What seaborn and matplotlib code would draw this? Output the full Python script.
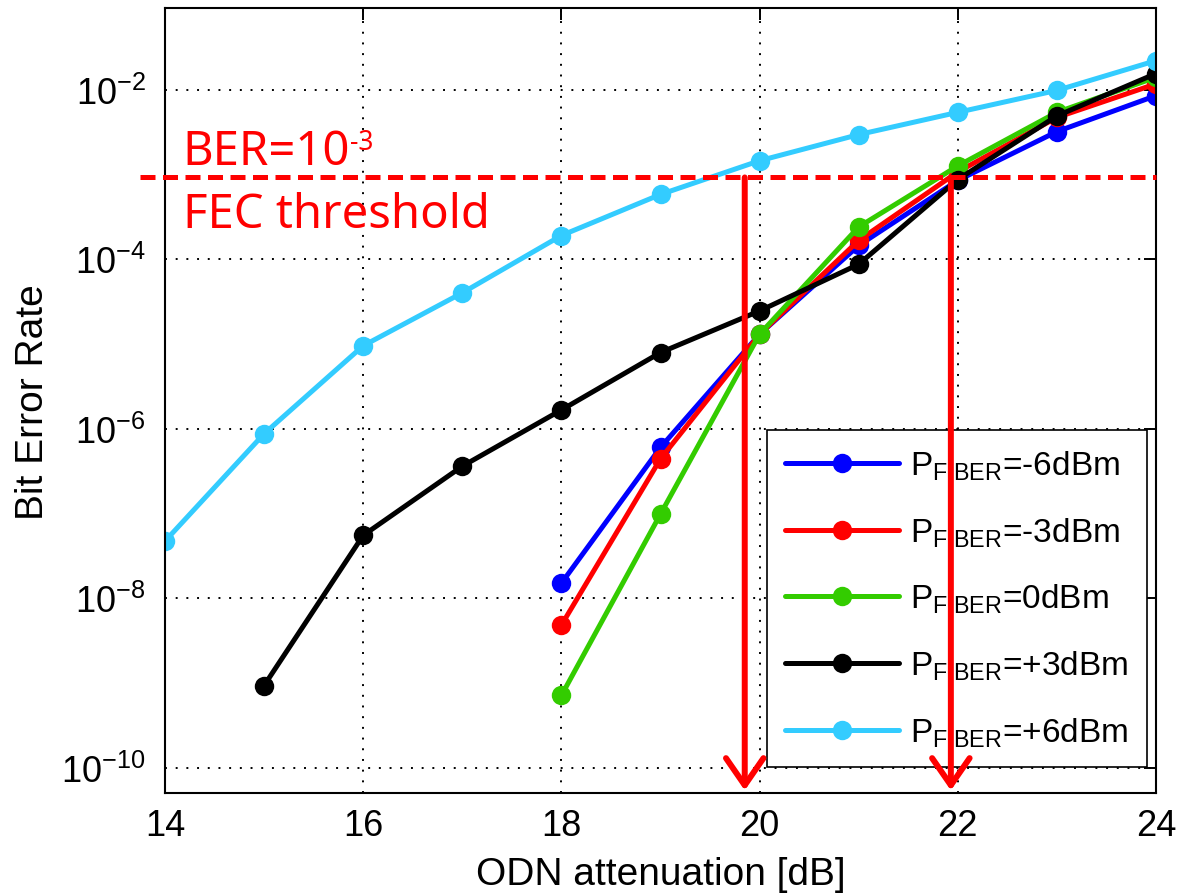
import numpy as np
import pandas as pd
import matplotlib
matplotlib.use("Agg")
import matplotlib.pyplot as plt
import matplotlib.transforms as mtransforms
import seaborn as sns

# ---------------- data ----------------
x_p6 = [14, 15, 16, 17, 18, 19, 20, 21, 22, 23, 24]
ber_p6 = [4.7e-8, 8.7e-7, 9.5e-6, 4.0e-5, 1.9e-4, 5.8e-4, 1.45e-3, 2.95e-3, 5.4e-3, 9.8e-3, 2.2e-2]

x_p3 = [15, 16, 17, 18, 19, 20, 21, 22, 23, 24]
ber_p3 = [9.3e-10, 5.5e-8, 3.6e-7, 1.66e-6, 7.9e-6, 2.45e-5, 8.7e-5, 8.7e-4, 4.9e-3, 1.55e-2]

x_m6 = [18, 19, 20, 21, 22, 23, 24]
ber_m6 = [1.5e-8, 6.0e-7, 1.3e-5, 1.45e-4, 8.5e-4, 3.2e-3, 8.5e-3]

x_m3 = [18, 19, 20, 21, 22, 23, 24]
ber_m3 = [4.8e-9, 4.4e-7, 1.3e-5, 1.66e-4, 1.07e-3, 4.7e-3, 1.17e-2]

x_0 = [18, 19, 20, 21, 22, 23, 24]
ber_0 = [7.1e-10, 9.8e-8, 1.3e-5, 2.4e-4, 1.26e-3, 5.4e-3, 1.4e-2]

labels = [r"P$_{\mathregular{FIBER}}$=-6dBm", r"P$_{\mathregular{FIBER}}$=-3dBm",
          r"P$_{\mathregular{FIBER}}$=0dBm", r"P$_{\mathregular{FIBER}}$=+3dBm",
          r"P$_{\mathregular{FIBER}}$=+6dBm"]
colors = ["#0000FF", "#FF0000", "#33CC00", "#000000", "#33CCFF"]

fec_threshold = 9.2e-4
arrow_x = [19.85, 21.93]
x_ticks = [14, 16, 18, 20, 22, 24]
y_ticks = [1e-10, 1e-8, 1e-6, 1e-4, 1e-2]

series = [(x_m6, ber_m6), (x_m3, ber_m3), (x_0, ber_0), (x_p3, ber_p3), (x_p6, ber_p6)]
frames = []
for lab, (xs, ys) in zip(labels, series):
    frames.append(pd.DataFrame({"att": xs, "ber": ys, "series": lab}))
df = pd.concat(frames, ignore_index=True)

# ---------------- style ----------------
sns.set_style("white")
plt.rcParams["font.family"] = ["Liberation Sans", "DejaVu Sans"]
plt.rcParams["axes.unicode_minus"] = False
plt.rcParams["mathtext.default"] = "regular"
plt.rcParams["text.color"] = "black"
plt.rcParams["axes.labelcolor"] = "black"
plt.rcParams["xtick.color"] = "black"
plt.rcParams["ytick.color"] = "black"

fig = plt.figure(figsize=(11.78, 8.95), dpi=100)
ax = fig.add_axes([165 / 1178, 1 - 794 / 895, (1156 - 165) / 1178, (794 - 9.3) / 895])
ax.set_yscale("log")

sns.lineplot(data=df, x="att", y="ber", hue="series", hue_order=labels,
             palette=dict(zip(labels, colors)), marker="o", markersize=14,
             markeredgewidth=0, linewidth=3.6, ax=ax, legend=True,
             estimator=None, sort=False)

ax.set_xlim(14, 24)
ax.set_ylim(10 ** -10.30, 10 ** -1.04)
ax.set_xticks(x_ticks)
ax.set_xticklabels([str(t) for t in x_ticks])
ax.set_yticks(y_ticks)
ax.yaxis.set_minor_locator(matplotlib.ticker.NullLocator())
ax.xaxis.set_minor_locator(matplotlib.ticker.NullLocator())

ax.grid(True, which="major", color="black", linestyle=(0, (1, 4.5)), linewidth=1.4)
for s in ax.spines.values():
    s.set_color("black")
    s.set_linewidth(1.5)
    s.set_visible(True)

ax.tick_params(axis="both", which="major", direction="in", length=8.5, width=1.4,
               top=True, right=True, labelsize=26, colors="black")
ax.tick_params(axis="x", pad=11)
ax.tick_params(axis="y", pad=14)

ax.set_xlabel("ODN attenuation [dB]", fontsize=28, labelpad=9, color="black")
ax.set_ylabel("Bit Error Rate", fontsize=28, labelpad=7, color="black")

# legend
leg = ax.legend(loc="lower right", bbox_to_anchor=(0.991, 0.033), borderaxespad=0,
                fontsize=24, handlelength=3.4, handletextpad=0.35, labelspacing=1.0,
                borderpad=0.55, frameon=True, fancybox=False, framealpha=1,
                edgecolor="black")
leg.get_frame().set_linewidth(1.2)
leg.set_zorder(6)
for txt in leg.get_texts():
    txt.set_color("black")

# FEC threshold line
trans = mtransforms.blended_transform_factory(ax.transAxes, ax.transData)
ax.plot([-0.025, 1.0], [fec_threshold, fec_threshold], transform=trans, color="#FF0000",
        linestyle=(0, (3, 1.5)), linewidth=3.6, clip_on=False, zorder=8)

red_font = ["Noto Sans", "DejaVu Sans"]
t1 = ax.text(0.018, 10 ** -2.88, "BER=10", transform=trans, color="#FF0000",
             fontsize=34, family=red_font, ha="left", va="baseline", zorder=9)
ax.annotate("-3", xy=(1, 1), xycoords=t1, xytext=(0, 0), textcoords="offset points",
            color="#FF0000", fontsize=19, family=red_font, ha="left", va="top", zorder=9)
ax.text(0.018, 10 ** -3.62, "FEC threshold", transform=trans, color="#FF0000",
        fontsize=34, family=red_font, ha="left", va="baseline", zorder=9)

# arrows
for xa in arrow_x:
    ax.annotate("", xy=(xa, 10 ** -10.27), xytext=(xa, fec_threshold),
                arrowprops=dict(arrowstyle="->,head_length=0.65,head_width=0.45",
                                color="#FF0000", lw=4.3, shrinkA=0, shrinkB=0,
                                mutation_scale=30),
                zorder=10, annotation_clip=False)

fig.savefig("out.png", dpi=100)
